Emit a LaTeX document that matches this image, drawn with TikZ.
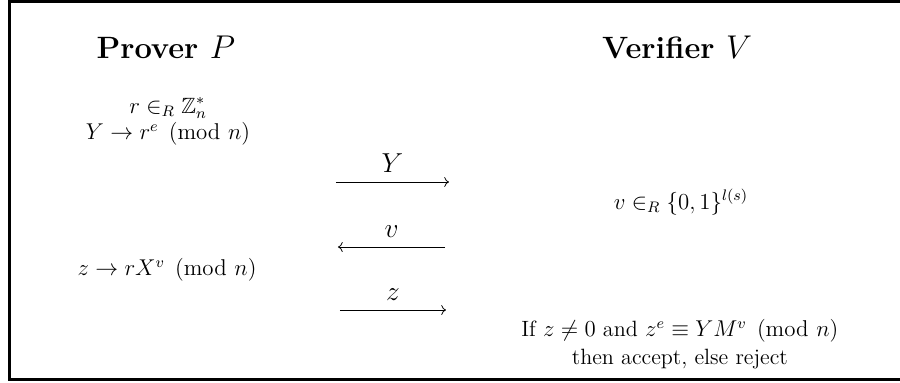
\documentclass[tikz,border=0pt]{standalone}
\usepackage{amsmath,amssymb}
\usetikzlibrary{arrows.meta,positioning}

\tikzset{
  party/.style={font=\fontsize{16.2}{19}\selectfont\bfseries},
  stepnote/.style={align=center, inner sep=1pt},
  msg/.style={->, thin},
  msglabel/.style={above=5pt, inner sep=0pt, font=\fontsize{15}{18}\selectfont}
}

\begin{document}
\begin{tikzpicture}[font=\fontsize{11.6}{14.6}\selectfont]
\useasboundingbox (0,0) rectangle (16.6,7.064);
% frame (open on the right)
\draw[line width=1.6pt] (16.8,7.036) -- (0.175,7.036) -- (0.175,0.065) -- (16.8,0.065);

% the two parties
\node[party] (prover) at (3.06,6.197) {Prover $P$};
\node[party] (verifier) at (12.49,6.197) {Verifier $V$};

% prover side
\node[stepnote, font=\fontsize{11.6}{14}\selectfont] (commit) at (3.10,4.82) {$r \in_R \mathbb{Z}_n^*$\\$Y \to r^e \pmod{n}$};
\node[stepnote] (respond) at (3.08,2.084) {$z \to rX^v \pmod{n}$};

% verifier side
\node[stepnote] (challenge) at (12.56,3.338) {$v \in_R \{0,1\}^{l(s)}$};
\node[stepnote] (check) at (12.54,0.719) {If $z \neq 0$ and $z^e \equiv YM^v \pmod{n}$\\then accept, else reject};

% messages
\coordinate (y0) at (6.197,3.707);
\coordinate (y1) at (8.281,3.707);
\coordinate (v0) at (8.208,2.508);
\coordinate (v1) at (6.234,2.508);
\coordinate (z0) at (6.271,1.346);
\coordinate (z1) at (8.226,1.346);
\draw[msg] (y0) -- node[msglabel] (ylab) {$Y$} (y1);
\draw[msg] (v0) -- node[msglabel] (vlab) {$v$} (v1);
\draw[msg] (z0) -- node[msglabel] (zlab) {$z$} (z1);
\end{tikzpicture}
\end{document}
